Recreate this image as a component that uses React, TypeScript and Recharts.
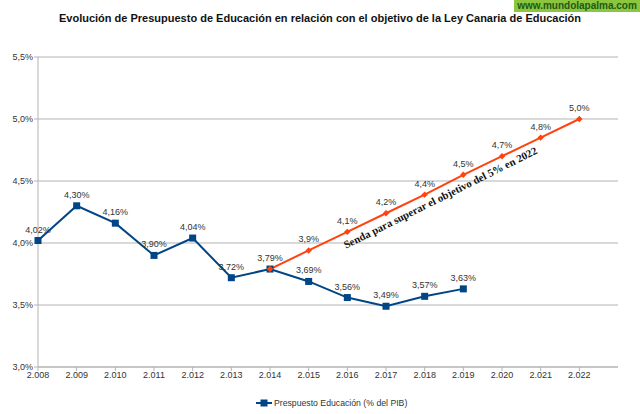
import React from "react";
import { LineChart, Line, XAxis, YAxis, CartesianGrid } from "recharts";

// Años (eje X) y valores (% del PIB)
const years = [2008, 2009, 2010, 2011, 2012, 2013, 2014, 2015, 2016, 2017, 2018, 2019, 2020, 2021, 2022];
const presupuesto = [4.02, 4.3, 4.16, 3.9, 4.04, 3.72, 3.79, 3.69, 3.56, 3.49, 3.57, 3.63, null, null, null];
const senda = [null, null, null, null, null, null, 3.79, 3.94, 4.09, 4.24, 4.39, 4.55, 4.7, 4.85, 5.0];
const yTicks = [3, 3.5, 4, 4.5, 5, 5.5];

const BLUE = "#004586";
const ORANGE = "#ff420e";
const GRID = "#b3b3b3";
const FONT = "'Liberation Sans', Arial, sans-serif";

const data = years.map((year, i) => ({
  year,
  presupuesto: presupuesto[i],
  senda: senda[i],
}));

const pct = (v: number, digits: number) => v.toFixed(digits).replace(".", ",") + "%";
const yearLabel = (y: number) => String(y).replace(/^(\d)(\d{3})$/, "$1.$2");

// square marker for the blue series
const SquareDot = (props: any) => {
  const { cx, cy, value } = props;
  if (value == null || cx == null) return null;
  return <rect x={cx - 3.5} y={cy - 3.5} width={7} height={7} fill={BLUE} />;
};

// small diamond for the orange path
const DiamondDot = (props: any) => {
  const { cx, cy, value } = props;
  if (value == null || cx == null) return null;
  const r = 3.2;
  return (
    <path
      d={`M${cx},${cy - r} L${cx + r},${cy} L${cx},${cy + r} L${cx - r},${cy} Z`}
      fill={ORANGE}
    />
  );
};

const makeLabel = (digits: number, skipFirst: boolean) => (props: any) => {
  const { x, y, value, index } = props;
  if (value == null) return null;
  if (skipFirst && index === 6) return null;
  return (
    <text
      x={x}
      y={y - 8}
      textAnchor="middle"
      fontSize={9}
      fontFamily={FONT}
      fill="#333"
    >
      {pct(Number(value), digits)}
    </text>
  );
};

export default function App() {
  return (
    <div
      style={{
        position: "absolute",
        left: 0,
        top: 0,
        width: 640,
        height: 414,
        background: "#fff",
        fontFamily: FONT,
        overflow: "hidden",
      }}
    >
      {/* marca de agua */}
      <div
        style={{
          position: "absolute",
          left: 514,
          top: 0,
          width: 126,
          height: 12,
          background: "#8cc63f",
          color: "#1d5a14",
          fontSize: 10,
          fontWeight: "bold",
          lineHeight: "12px",
          textAlign: "center",
        }}
      >
        www.mundolapalma.com
      </div>

      <div
        style={{
          position: "absolute",
          left: 0,
          top: 12,
          width: 640,
          textAlign: "center",
          fontSize: 11,
          fontWeight: "bold",
          color: "#111",
        }}
      >
        Evolución de Presupuesto de Educación en relación con el objetivo de la Ley Canaria de Educación
      </div>

      <LineChart
        width={640}
        height={414}
        data={data}
        margin={{ top: 57, right: 22, bottom: 27, left: 0 }}
      >
        <CartesianGrid vertical={false} stroke={GRID} />
        <XAxis
          dataKey="year"
          type="number"
          domain={[2008, 2023]}
          ticks={years}
          tickFormatter={yearLabel}
          height={20}
          tickSize={4}
          tickMargin={1}
          stroke={GRID}
          tick={{ fontSize: 9, fill: "#333", fontFamily: FONT }}
        />
        <YAxis
          domain={[3, 5.5]}
          ticks={yTicks}
          tickFormatter={(v: number) => pct(v, 1)}
          width={38}
          tickSize={4}
          tickMargin={1}
          stroke={GRID}
          tick={{ fontSize: 9, fill: "#333", fontFamily: FONT }}
        />
        <Line
          dataKey="presupuesto"
          stroke={BLUE}
          strokeWidth={2}
          dot={<SquareDot />}
          activeDot={false}
          label={makeLabel(2, false)}
          isAnimationActive={false}
        />
        <Line
          dataKey="senda"
          stroke={ORANGE}
          strokeWidth={2}
          dot={<DiamondDot />}
          activeDot={false}
          label={makeLabel(1, true)}
          isAnimationActive={false}
        />
      </LineChart>

      {/* anotación girada sobre la senda */}
      <svg
        width={640}
        height={414}
        style={{ position: "absolute", left: 0, top: 0, pointerEvents: "none" }}
      >
        <text
          x={442}
          y={201}
          transform="rotate(-26.5 442 201)"
          textAnchor="middle"
          fontFamily="'Liberation Serif', 'Times New Roman', serif"
          fontWeight="bold"
          fontSize={10.8}
          fill="#111"
        >
          Senda para superar el objetivo del 5% en 2022
        </text>
      </svg>

      {/* leyenda */}
      <div
        style={{
          position: "absolute",
          left: 256,
          top: 398,
          display: "flex",
          alignItems: "center",
          fontSize: 8.7,
          color: "#333",
          whiteSpace: "nowrap",
        }}
      >
        <svg width={16} height={10} style={{ marginRight: 2 }}>
          <line x1={0} y1={5} x2={16} y2={5} stroke={BLUE} strokeWidth={2} />
          <rect x={4.5} y={1.5} width={7} height={7} fill={BLUE} />
        </svg>
        <span>Prespuesto Educación (% del PIB)</span>
      </div>
    </div>
  );
}
